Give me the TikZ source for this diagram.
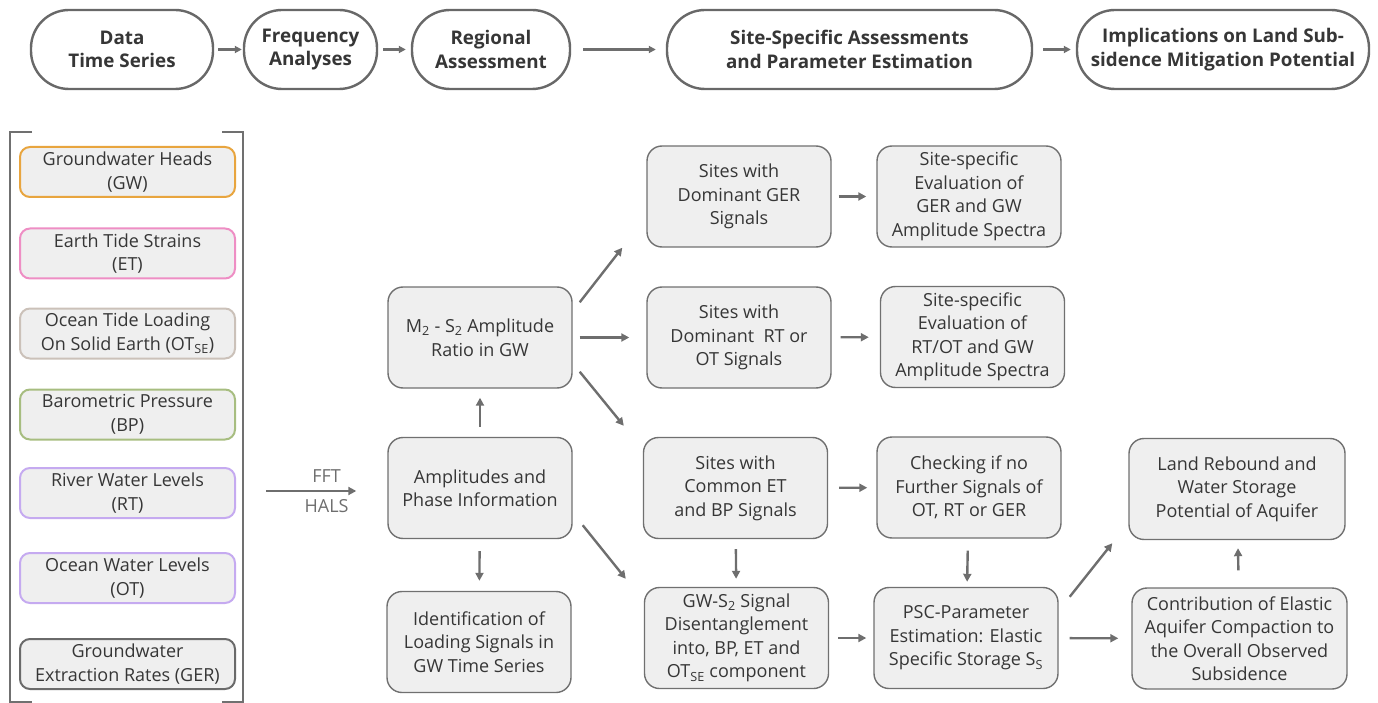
\documentclass[tikz,border=0pt]{standalone}
\usepackage{fontspec}
\setmainfont{Open Sans}
\usetikzlibrary{arrows.meta}
\usetikzlibrary{calc}

\definecolor{arrowgray}{HTML}{6E6E6E}
\definecolor{stagegray}{HTML}{686868}
\definecolor{boxfill}{HTML}{EFEFEF}
\definecolor{boxline}{HTML}{707070}
\definecolor{textgray}{HTML}{363636}
\definecolor{gwcol}{HTML}{E8A53F}
\definecolor{etcol}{HTML}{EE8EC4}
\definecolor{otsecol}{HTML}{CBC1B9}
\definecolor{bpcol}{HTML}{A7BD80}
\definecolor{rtcol}{HTML}{C5AAF0}
\definecolor{gercol}{HTML}{6A6A6A}

\newcommand{\lowtag}[1]{\textsubscript{#1}}

\begin{document}
\begin{tikzpicture}[x=1pt,y=-1pt,
    every node/.style={font=\fontsize{18}{23.5}\selectfont,text=textgray,align=center},
    stage/.style={draw=stagegray,line width=2.4pt,fill=white,rounded corners=38pt,
      minimum width=#1,minimum height=79pt,inner sep=0pt,
      font=\bfseries\fontsize{18.8}{23.5}\selectfont},
    srcbox/.style={draw=#1,line width=2pt,fill=boxfill,rounded corners=10pt,
      minimum width=215pt,minimum height=50pt,inner sep=0pt},
    procbox/.style={draw=boxline,line width=1.4pt,fill=boxfill,rounded corners=15pt,
      minimum width=184pt,minimum height=101pt,inner sep=0pt},
    flow/.style={draw=arrowgray,line width=2.4pt,-{Triangle[length=8pt,width=8pt]}},
    topflow/.style={draw=arrowgray,line width=2.4pt,-{Triangle[length=7pt,width=7pt]}},
    bracket/.style={draw=boxline,line width=2.6pt}
  ]
  \useasboundingbox (0,0) rectangle (1378,703);

  % workflow stages
  \node[stage=182pt] (data) at (122,49.5) {Data\\Time Series};
  \node[stage=133pt] (freq) at (310.5,49.5) {Frequency\\Analyses};
  \node[stage=158pt] (regional) at (491,49.5) {Regional\\Assessment};
  \node[stage=365pt] (site) at (849.5,49.5) {Site-Specific Assessments\\and Parameter Estimation};
  \node[stage=292pt] (impl) at (1223,49.5) {Implications on Land Sub-\\sidence Mitigation Potential};

  \draw[topflow,shorten <=4pt,shorten >=1pt] (data) -- (freq);
  \draw[topflow,shorten <=5pt,shorten >=5pt] (freq) -- (regional);
  \draw[topflow,shorten <=12pt,shorten >=10pt] (regional) -- (site);
  \draw[topflow,shorten <=10pt,shorten >=5pt] (site) -- (impl);

  % input time series
  \draw[bracket] (32,132) -| (10,702) -- (32,702);
  \draw[bracket] (222,132) -| (243,702) -- (222,702);
  \node[srcbox=gwcol] (gw) at (127.5,172) {Groundwater Heads\\(GW)};
  \node[srcbox=etcol] (et) at (127.5,253.5) {Earth Tide Strains\\(ET)};
  \node[srcbox=otsecol] (otse) at (127.5,333.5) {Ocean Tide Loading\\On Solid Earth (OT\lowtag{SE})};
  \node[srcbox=bpcol] (bp) at (127.5,414.5) {Barometric Pressure\\(BP)};
  \node[srcbox=rtcol] (rt) at (127.5,493) {River Water Levels\\(RT)};
  \node[srcbox=rtcol] (ot) at (127.5,578) {Ocean Water Levels\\(OT)};
  \node[srcbox=gercol] (ger) at (127.5,664) {Groundwater\\Extraction Rates (GER)};

  % analysis boxes
  \node[procbox] (ratio) at (480,337.5) {M\lowtag{2} - S\lowtag{2} Amplitude\\Ratio in GW};
  \node[procbox] (amp) at (480,488) {Amplitudes and\\Phase Information};
  \node[procbox] (ident) at (479,642) {Identification of\\Loading Signals in\\GW Time Series};
  \node[procbox] (domger) at (739,196.5) {Sites with\\Dominant GER\\Signals};
  \node[procbox] (domrt) at (739,337.5) {Sites with\\Dominant~~RT or\\OT Signals};
  \node[procbox] (common) at (735.5,488) {Sites with\\Common ET\\and BP Signals};
  \node[procbox] (disent) at (736.5,638) {GW-S\lowtag{2} Signal\\Disentanglement\\into, BP, ET and\\OT\lowtag{SE} component};
  \node[procbox] (evalger) at (969,196.5) {Site-specific\\Evaluation of\\GER and GW\\Amplitude Spectra};
  \node[procbox] (evalrt) at (972.5,337) {Site-specific\\Evaluation of\\RT/OT and GW\\Amplitude Spectra};
  \node[procbox] (check) at (969,487.5) {Checking if no\\Further Signals of\\OT, RT or GER};
  \node[procbox] (psc) at (966,638) {PSC-Parameter\\Estimation: Elastic\\Specific Storage S\lowtag{S}};
  \node[procbox,minimum width=216pt] (rebound) at (1237,489) {Land Rebound and\\Water Storage\\Potential of Aquifer};
  \node[procbox,minimum width=215pt] (contrib) at (1239.5,638.5) {Contribution of Elastic\\Aquifer Compaction to\\the Overall Observed\\Subsidence};

  % connectors
  \coordinate (fftin) at (266,491);
  \draw[flow,shorten >=31pt] (fftin) -- (fftin -| amp.west)
    node[midway,above=4pt,text=arrowgray] {FFT}
    node[midway,below=4pt,text=arrowgray] {HALS};
  \draw[flow,shorten <=10pt,shorten >=9pt] (amp) -- (ratio);
  \draw[flow,shorten <=12pt,shorten >=10pt] (amp) -- (ident);
  \draw[flow] ($(ratio.north east)+(7,16)$) -- ($(domger.south west)+(-24,0)$);
  \draw[flow,shorten <=7pt,shorten >=17pt] (ratio) -- (domrt);
  \draw[flow] ($(ratio.south east)+(7,-17)$) -- ($(common.north west)+(-19,-11)$);
  \draw[flow] ($(amp.south east)+(10,-14)$) -- ($(disent.north west)+(-18,-8)$);
  \draw[flow,shorten <=7pt,shorten >=10pt] (domger) -- (evalger);
  \draw[flow,shorten <=9pt,shorten >=11pt] (domrt) -- (evalrt);
  \draw[flow,shorten <=11pt,shorten >=9pt] (common) -- (check);
  \draw[flow,shorten <=10pt,shorten >=8pt] (common) -- (disent);
  \draw[flow,shorten <=12pt,shorten >=5pt] (check) -- (psc);
  \draw[flow,shorten <=9pt,shorten >=7pt] (disent) -- (psc);
  \draw[flow] ($(psc.north east)+(11,10)$) -- ($(rebound.south west)+(-16,3)$);
  \draw[flow,shorten <=11pt,shorten >=13pt] (psc) -- (contrib);
  \draw[flow,shorten <=17pt,shorten >=8pt] (contrib) -- (rebound);
\end{tikzpicture}
\end{document}
